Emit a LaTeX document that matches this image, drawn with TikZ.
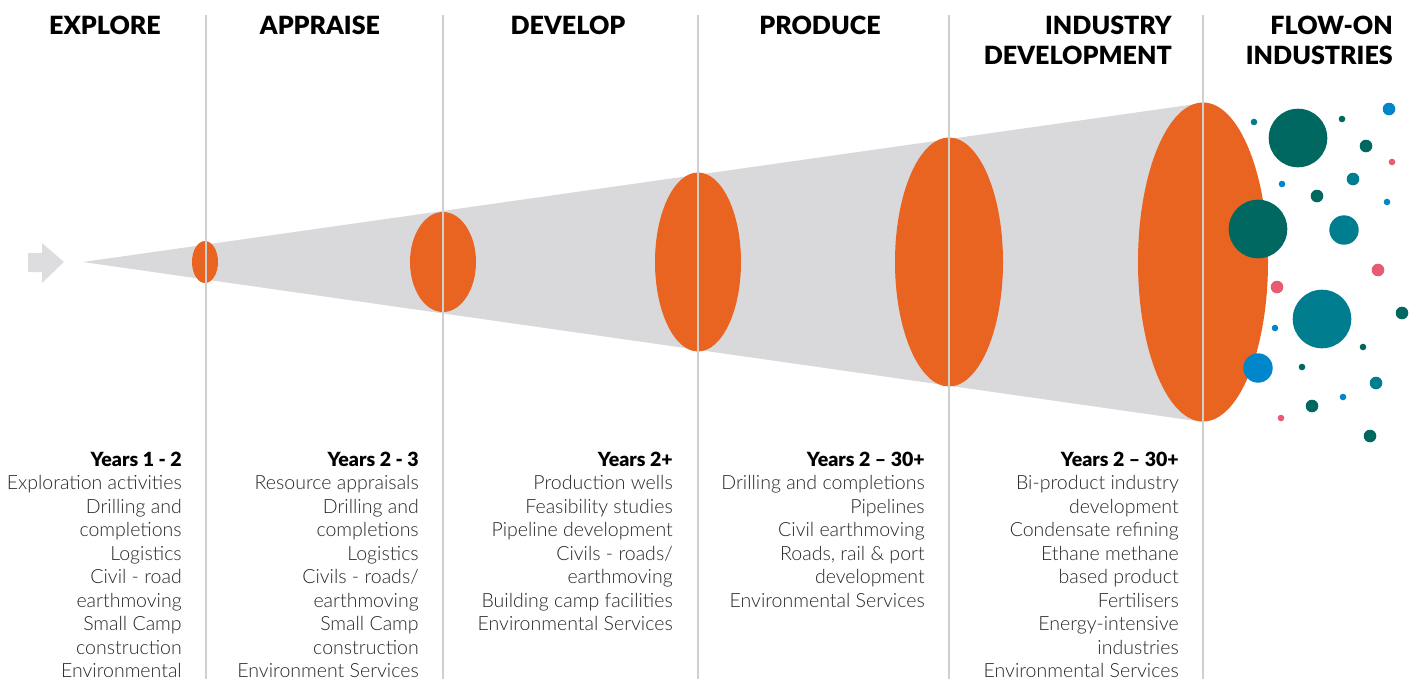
\documentclass[tikz,border=0pt]{standalone}
\usepackage{fontspec}
\setmainfont{Lato}
\newfontfamily\headfont{Lato Black}
\newfontfamily\lightfont{Lato Light}
\definecolor{funnel}{RGB}{217,217,219}
\definecolor{divider}{RGB}{207,207,207}
\definecolor{stageorange}{RGB}{233,100,33}
\definecolor{darkgreen}{RGB}{0,104,97}
\definecolor{teal}{RGB}{0,126,143}
\definecolor{sky}{RGB}{0,134,202}
\definecolor{rose}{RGB}{231,91,115}
\tikzset{
  stage/.style={font=\headfont\fontsize{18.8}{22.5}\selectfont, inner sep=0pt},
  years/.style={font=\headfont\fontsize{14.65}{17.6}\selectfont, inner sep=0pt, anchor=base east},
  item/.style={font=\lightfont\fontsize{14.65}{17.6}\selectfont, inner sep=0pt, anchor=base east, text=black!85},
}
\begin{document}
\begin{tikzpicture}[x=0.75pt,y=-0.75pt]
	\useasboundingbox (0,0) rectangle (1418,679);
	% arrow and funnel
	\fill[funnel!90] (28,253) -- (42,253) -- (42,243) -- (64,262) -- (42,283) -- (42,272) -- (28,272) -- cycle;
	\fill[funnel] (83,262) -- (1203,103) -- (1203,422) -- cycle;
	% stage ellipses
	\fill[stageorange] (205,262) ellipse [x radius=13, y radius=21];
	\fill[stageorange] (443,262) ellipse [x radius=33, y radius=50];
	\fill[stageorange] (698,262) ellipse [x radius=43, y radius=89.5];
	\fill[stageorange] (949,262) ellipse [x radius=54, y radius=124.5];
	\fill[stageorange] (1203,262) ellipse [x radius=65, y radius=159.5];
	% dividers
	\foreach \x in {206,443,698,949,1203}
		\draw[divider, line width=1.5pt] (\x,15) -- (\x,679);
	% flow-on bubbles
	\foreach \x/\y/\r/\c in {1254/122/3.3/teal, 1298/138/29.3/darkgreen, 1342/119/3.3/darkgreen,
		1389/109/6.3/sky, 1366/146/6.3/darkgreen, 1392/162/3.3/rose, 1282/184/3.3/sky,
		1353/179/6.3/teal, 1317/196/6.3/darkgreen, 1387/202/3.3/sky, 1258/229/29.3/darkgreen,
		1344/230/14.7/teal, 1378/270/6.3/rose, 1277/287/6.3/rose, 1402/313/6.3/darkgreen,
		1322/319/29.3/teal, 1275/328/3.3/sky, 1363/347/3.3/darkgreen, 1258/368/14.7/sky,
		1302/367/3.3/darkgreen, 1376/383/6.3/teal, 1343/397/3.3/sky, 1312/406/6.3/darkgreen,
		1281/418/3.3/rose, 1370/436/6.3/darkgreen}
		\fill[\c] (\x,\y) circle (\r);
	% headings
	\node[stage, anchor=base] (h1) at (105,34) {EXPLORE};
	\node[stage, anchor=base] (h2) at (320,34) {APPRAISE};
	\node[stage, anchor=base] (h3) at (568,34) {DEVELOP};
	\node[stage, anchor=base] (h4) at (820,34) {PRODUCE};
	\node[stage, anchor=base east] (h5a) at (1172,34) {INDUSTRY};
	\node[stage, anchor=base east] (h5b) at (1172,64) {DEVELOPMENT};
	\node[stage, anchor=base east] (h6a) at (1393,34) {FLOW-ON};
	\node[stage, anchor=base east] (h6b) at (1393,64) {INDUSTRIES};
	% activity lists
	\node[years] (y1) at (182,466) {Years 1 - 2};
	\foreach \t [count=\i] in {Exploration activities, Drilling and, completions, Logistics,
		Civil - road, earthmoving, Small Camp, construction, Environmental}
		\node[item] (a\i) at (182,{466+23.5*\i}) {\t};
	\node[years] (y2) at (419,466) {Years 2 - 3};
	\foreach \t [count=\i] in {Resource appraisals, Drilling and, completions, Logistics,
		Civils - roads/, earthmoving, Small Camp, construction, Environment Services}
		\node[item] (b\i) at (419,{466+23.5*\i}) {\t};
	\node[years] (y3) at (673,466) {Years 2+};
	\foreach \t [count=\i] in {Production wells, Feasibility studies, Pipeline development,
		Civils - roads/, earthmoving, Building camp facilities, Environmental Services}
		\node[item] (c\i) at (673,{466+23.5*\i}) {\t};
	\node[years] (y4) at (925,466) {Years 2 – 30+};
	\foreach \t [count=\i] in {Drilling and completions, Pipelines, Civil earthmoving,
		{Roads, rail \& port}, development, Environmental Services}
		\node[item] (d\i) at (925,{466+23.5*\i}) {\t};
	\node[years] (y5) at (1179,466) {Years 2 – 30+};
	\foreach \t [count=\i] in {Bi-product industry, development, Condensate refining,
		Ethane methane, based product, Fertilisers, Energy-intensive, industries,
		Environmental Services}
		\node[item] (e\i) at (1179,{466+23.5*\i}) {\t};
\end{tikzpicture}
\end{document}
